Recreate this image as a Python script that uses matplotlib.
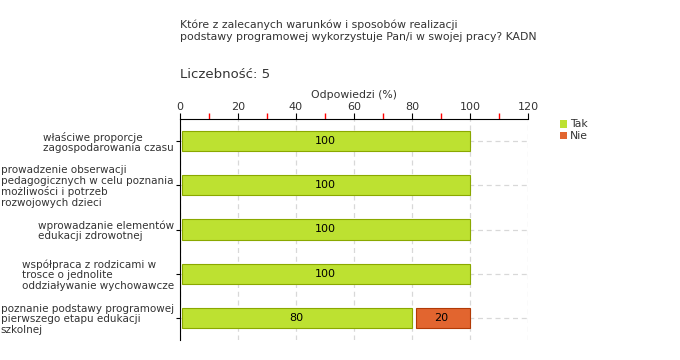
import matplotlib.pyplot as plt
from matplotlib.patches import Rectangle

categories = [
    "właściwe proporcje\nzagospodarowania czasu",
    "prowadzenie obserwacji\npedagogicznych w celu poznania\nmożliwości i potrzeb\nrozwojowych dzieci",
    "wprowadzanie elementów\nedukacji zdrowotnej",
    "współpraca z rodzicami w\ntrosce o jednolite\noddziaływanie wychowawcze",
    "poznanie podstawy programowej\npierwszego etapu edukacji\nszkolnej",
]
tak = [100, 100, 100, 100, 80]
nie = [0, 0, 0, 0, 20]
series_names = ["Tak", "Nie"]
major_ticks = [0, 20, 40, 60, 80, 100, 120]
minor_ticks = [10, 30, 50, 70, 90, 110]

GREEN, GREEN_EDGE = "#bde131", "#8aa800"
ORANGE, ORANGE_EDGE = "#e2652f", "#b13a06"
TEXT = "#333333"

plt.rcParams['font.family'] = ['DejaVu Sans']

fig = plt.figure(figsize=(6.8, 3.6), dpi=100)
ax = fig.add_axes([180 / 680, 1 - 340 / 360, 348 / 680, 221 / 360])

ypos = list(range(len(categories)))
gap = 0.7
for y, t, n in zip(ypos, tak, nie):
    if t > 0:
        ax.barh(y, t - gap, left=gap, height=0.46, color=GREEN, edgecolor=GREEN_EDGE, lw=0.8, zorder=3)
        ax.text(t / 2, y, str(t), ha="center", va="center", fontsize=8, color="black", zorder=4)
    if n > 0:
        ax.barh(y, n - gap * 2, left=t + gap * 2, height=0.46, color=ORANGE, edgecolor=ORANGE_EDGE, lw=0.8, zorder=3)
        ax.text(t + n / 2, y, str(n), ha="center", va="center", fontsize=8, color="black", zorder=4)

ax.set_xlim(0, 120)
ax.set_ylim(len(categories) - 0.5, -0.5)

ax.xaxis.tick_top()
ax.xaxis.set_label_position("top")
ax.set_xticks(major_ticks)
ax.set_xticklabels([str(v) for v in major_ticks], fontsize=8, color=TEXT)
ax.set_xticks(minor_ticks, minor=True)
ax.tick_params(axis="x", which="major", direction="out", length=4, color="black", pad=1)
ax.tick_params(axis="x", which="minor", direction="out", length=4, color="red", width=1)
ax.set_xlabel("Odpowiedzi (%)", fontsize=7.8, color=TEXT, labelpad=3)

ax.set_yticks(ypos)
ax.set_yticklabels(categories, fontsize=7.5, color=TEXT, multialignment="left", linespacing=1.08)
ax.tick_params(axis="y", direction="out", length=3, color="black", pad=1.5)

for s in ("right", "bottom"):
    ax.spines[s].set_visible(False)
ax.spines["top"].set_color("black")
ax.spines["left"].set_color("black")

ax.grid(True, axis="both", which="major", color="#d8d8d8", ls=(0, (4, 3)), lw=0.9, zorder=0)
ax.set_axisbelow(True)

fig.text(180 / 680, 1 - 31 / 360,
         "Które z zalecanych warunków i sposobów realizacji\npodstawy programowej wykorzystuje Pan/i w swojej pracy? KADN",
         fontsize=7.8, color=TEXT, va="center", ha="left", linespacing=1.2)
fig.text(180 / 680, 1 - 75 / 360, "Liczebność: 5", fontsize=9.5, color=TEXT, va="center", ha="left")

for i, (name, c) in enumerate(zip(series_names, [GREEN, ORANGE])):
    yy = 1 - (124 + i * 12) / 360
    fig.patches.append(Rectangle((560 / 680, yy - 3.5 / 360), 7 / 680, 7 / 360,
                                 transform=fig.transFigure, facecolor=c, edgecolor="none"))
    fig.text(570 / 680, yy, name, fontsize=7.8, color=TEXT, va="center", ha="left")

fig.savefig("out.png", dpi=100, facecolor="white")
